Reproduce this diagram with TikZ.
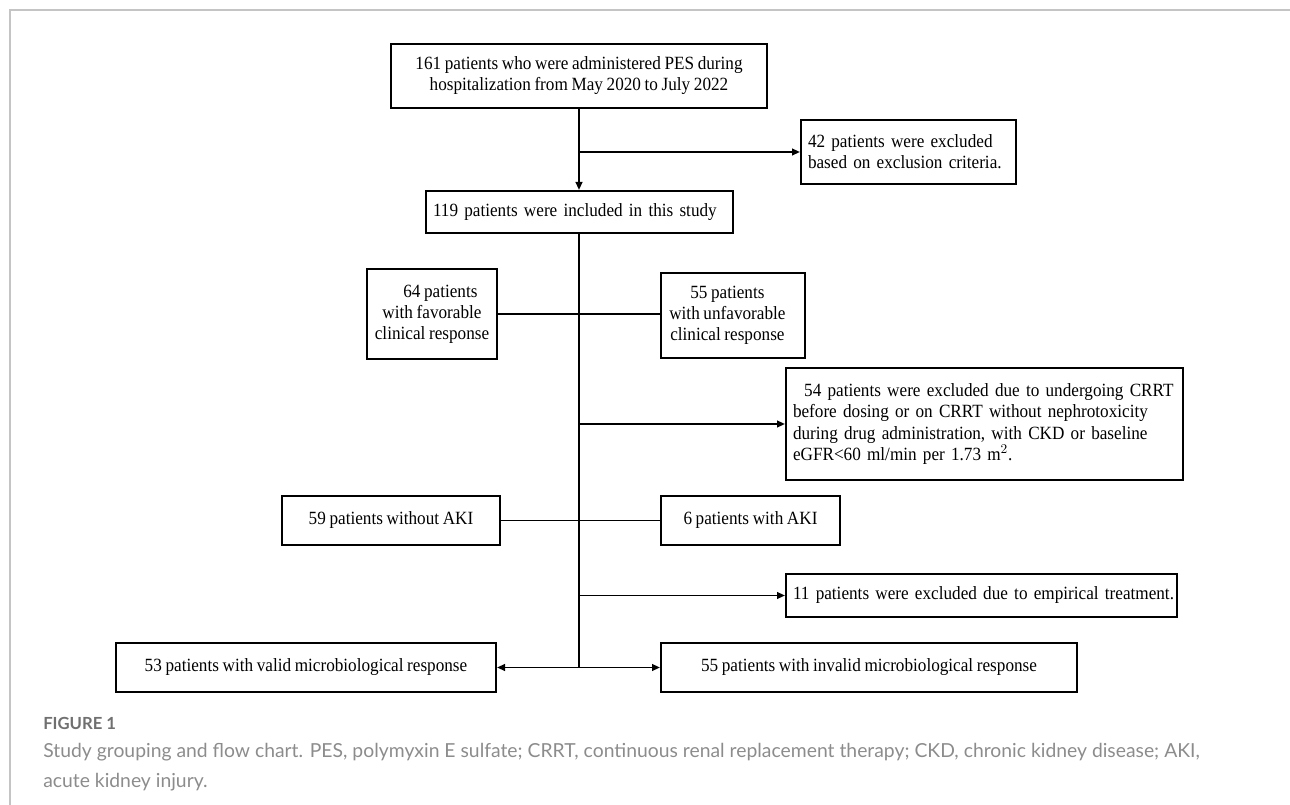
\documentclass[tikz,border=0pt]{standalone}
\usepackage{fontspec}
\setmainfont{Liberation Serif}[FakeStretch=0.92, WordSpace=0.85]
\newfontfamily\capfont{Lato}
\usetikzlibrary{arrows.meta}
\definecolor{framegray}{HTML}{C4C4C4}
\definecolor{capgray}{HTML}{8C8C8C}
\definecolor{figgray}{HTML}{707070}
\tikzset{
  box/.style={draw=black, line width=1.5pt, inner sep=0pt, font=\fontsize{14}{15.8}\selectfont},
  lbox/.style={box, align=left, inner xsep=5.25pt},
  cbox/.style={box, align=center},
  conn/.style={line width=1.4pt},
  arr/.style={conn, -{Triangle[length=6pt,width=5pt]}},
  captext/.style={anchor=base west, inner sep=0pt, text=capgray, font=\capfont\fontsize{14.5}{20}\selectfont},
}
\begin{document}
\begin{tikzpicture}[x=0.75pt,y=-0.75pt]
\useasboundingbox (0,0) rectangle (1290,805);
% card frame
\draw[framegray, line width=1.5pt] (10,805) -- (10,10) -- (1290,10);

% nodes
\node[cbox, minimum width=282pt, minimum height=48pt] (b1) at (579,76)
  {161 patients who were administered PES during\\hospitalization from May 2020 to July 2022};
\node[lbox, text width=150.75pt, minimum height=48pt] (b42) at (908.5,152)
  {42 patients were excluded\\based on exclusion criteria.};
\node[lbox, text width=219.75pt, minimum height=31.5pt] (b119) at (579.5,212)
  {\makebox[219.75pt][l]{119 patients were included in this study}};
\node[cbox, minimum width=97.5pt, minimum height=67.5pt] (b64) at (432,314)
  {\hspace*{0.9em}64 patients\\with favorable\\clinical response};
\node[cbox, minimum width=108pt, minimum height=63.75pt] (b55u) at (733,315.5)
  {\hspace*{-0.6em}55 patients\\\hspace*{-0.6em}with unfavorable\\\hspace*{-0.6em}clinical response};
\node[lbox, text width=287.25pt, minimum height=84pt] (b54) at (984.5,424)
  {\hspace*{0.6em}54 patients were excluded due to undergoing CRRT\\before dosing or on CRRT without nephrotoxicity\\during drug administration, with CKD or baseline\\eGFR<60 ml/min per 1.73 m$^{2}$.};
\node[cbox, minimum width=163.5pt, minimum height=36.75pt] (b59) at (391,520.5)
  {59 patients without AKI};
\node[cbox, minimum width=134.25pt, minimum height=36.75pt] (b6) at (750.5,520.5)
  {6 patients with AKI};
\node[lbox, text width=282.75pt, minimum height=32.25pt] (b11) at (981.5,595.5)
  {\makebox[282.75pt][l]{11 patients were excluded due to empirical treatment.}};
\node[cbox, minimum width=285pt, minimum height=36.75pt] (b53) at (306,667.5)
  {53 patients with valid microbiological response};
\node[cbox, minimum width=312pt, minimum height=36.75pt] (b55i) at (869,667.5)
  {55 patients with invalid microbiological response};

% junctions
\coordinate (j42) at (b1.south |- b42.west);
\coordinate (j54) at (b1.south |- b54.west);
\coordinate (j11) at (b1.south |- b11.west);
\coordinate (tb) at (b1.south |- b53.east);

% connectors
\draw[arr] (b1.south) -- (b1.south |- b119.north);
\draw[arr] (j42) -- (b42.west);
\draw[conn] (b1.south |- b119.south) -- (tb);
\draw[conn] (b64.east) -- (b64.east -| b55u.west);
\draw[arr] (j54) -- (b54.west);
\draw[conn] (b59.east) -- (b6.west);
\draw[arr] (j11) -- (b11.west);
\draw[arr] (tb) -- (b53.east);
\draw[arr] (tb) -- (b55i.west);

% caption
\node[anchor=base west, inner sep=0pt, text=figgray, font=\capfont\bfseries\fontsize{12.5}{15}\selectfont] (fig) at (43,729.5) {FIGURE 1};
\node[captext] (cap1) at (43,757)
  {Study grouping and flow chart. PES, polymyxin E sulfate; CRRT, continuous renal replacement therapy; CKD, chronic kidney disease; AKI,};
\node[captext] (cap2) at (43,787) {acute kidney injury.};
\end{tikzpicture}
\end{document}
